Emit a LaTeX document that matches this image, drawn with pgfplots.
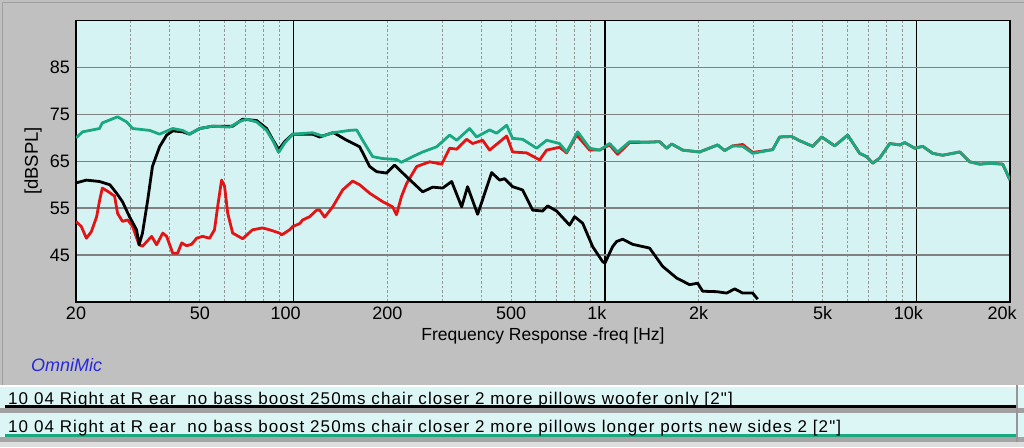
\documentclass[border=0pt]{standalone}
\usepackage{pgfplots}
\pgfplotsset{compat=1.18}
\usepackage{fontspec}
\setmainfont{Liberation Sans}
\newfontfamily\legendfont[LetterSpace=6.5]{Liberation Sans}
\definecolor{bggray}{RGB}{192,192,192}
\definecolor{plotcyan}{RGB}{214,243,243}
\definecolor{rowcyan}{RGB}{220,246,246}
\definecolor{gridgray}{RGB}{128,128,128}
\definecolor{mingray}{RGB}{150,150,150}
\definecolor{tealc}{RGB}{26,168,128}
\definecolor{redc}{RGB}{228,20,20}
\definecolor{omniblue}{RGB}{40,40,220}
\begin{document}
\begin{tikzpicture}[x=1pt,y=1pt]
\path[use as bounding box] (0,0) rectangle (1024,447);
% background
\fill[bggray] (0,0) rectangle (1024,447);
\draw[color={rgb,255:red,160;green,160;blue,160}, line width=1pt] (2.5,62) -- (2.5,444.5) -- (1024,444.5);
% legend rows
\fill[white] (0,60) rectangle (1024,62);
\fill[rowcyan] (0,39.5) rectangle (1024,60);
\fill[black] (5,39.5) rectangle (1017,41.6);
\fill[color={rgb,255:red,160;green,160;blue,160}] (0,34) rectangle (1024,39.5);
\fill[rowcyan] (0,10.5) rectangle (1024,34);
\fill[tealc] (5,10.5) rectangle (1017,13.5);
\fill[color={rgb,255:red,165;green,165;blue,165}] (0,5) rectangle (1024,10.5);
\fill[color={rgb,255:red,222;green,222;blue,222}] (0,0) rectangle (1024,5);
\draw[color={rgb,255:red,150;green,150;blue,150}, line width=1.2pt] (1017,5) -- (1017,62);
\node[anchor=base west, inner sep=0pt, font=\legendfont\fontsize{17}{18}\selectfont] at (8,42.5) {10 04 Right at R ear\ \ no bass boost 250ms chair closer 2 more pillows woofer only [2"]};
\node[anchor=base west, inner sep=0pt, font=\legendfont\fontsize{17}{18}\selectfont] at (8,15) {10 04 Right at R ear\ \ no bass boost 250ms chair closer 2 more pillows longer ports new sides 2 [2"]};
\node[anchor=west, inner sep=0pt, text=omniblue, font=\fontsize{18}{20}\selectfont\itshape] at (31,82) {OmniMic};
\node[anchor=center, inner sep=0pt, font=\fontsize{17.5}{20}\selectfont] at (543,111) {Frequency Response -freq [Hz]};
\node[anchor=center, inner sep=0pt, rotate=90, font=\fontsize{18.5}{20}\selectfont] at (33,286) {[dBSPL]};
\begin{axis}[
  at={(76pt,145pt)}, anchor=south west,
  width=934pt, height=281.3pt, scale only axis,
  xmode=log, xmin=20, xmax=20000, ymin=35, ymax=95,
  axis background/.style={fill=plotcyan},
  axis line style={black, line width=1.6pt},
  xtick={100,1000,10000,20000}, xticklabels={100,1k,10k,20k},
  extra x ticks={20,50,200,500,2000,5000},
  extra x tick labels={20,50,200,500,2k,5k},
  extra x tick style={grid=none, xticklabel style={xshift=8pt}},
  minor xtick={30,40,50,60,70,80,90,200,300,400,500,600,700,800,900,2000,3000,4000,5000,6000,7000,8000,9000},
  xmajorgrids, xminorgrids, ymajorgrids,
  major x grid style={black, line width=1.6pt},
  minor x grid style={mingray, line width=0.9pt, dash pattern=on 2.5pt off 2pt},
  major y grid style={gridgray, line width=1.6pt},
  ytick={45,55,65,75,85}, yticklabels={45,55,65,75,85},
  major tick length=0pt, minor tick length=0pt,
  xticklabel style={font=\fontsize{18}{20}\selectfont, inner sep=0pt, anchor=north, yshift=-4.5pt, xshift=-8pt},
  yticklabel style={font=\fontsize{18}{20}\selectfont, inner sep=0pt, anchor=east, xshift=-6pt},
  clip=true,
]
% red
\addplot[redc, line width=2.8pt, line join=round] coordinates {
(20,52.2)(20.8,51.1)(21.6,48.6)(22.4,50)(23.3,53.2)(23.8,56.6)(24.3,59.3)(25.3,58.6)(26.6,57.6)(27.2,53.9)(28.2,52.2)(29.3,52.5)(30.4,51.1)(31.9,47.2)(32.7,46.9)(35,49)(36.3,47.2)(38,49.7)(39.1,49)(40.9,45.4)(42.4,45.4)(43.7,47.6)(45.3,47)(47,47.3)(48.8,48.6)(51,49)(53.7,48.6)(55.7,50.4)(57,55.3)(58.7,61.0)(60,59.7)(61.4,54)(63.7,49.7)(68.6,48.5)(73.8,50.4)(79.5,50.8)(83.7,50.4)(90.1,49.7)(91.5,49.3)(97.1,50.4)(99.3,51.1)(104.5,51.7)(106.9,52.5)(112.6,53.2)(118.6,54.6)(121.2,54.6)(125.8,53.1)(133.5,55.3)(143.7,58.9)(154.7,60.8)(163,60)(175.5,58.2)(193.2,56.4)(208,55.3)(214,53.6)(222,57.5)(230.7,60.3)(248.5,63.9)(273.5,64.9)(298.8,64.4)(317,67.8)(334,67.6)(359.5,69.7)(375.8,68.8)(404.7,69.5)(426,67.4)(483.4,70.4)(505,67)(560.4,66.8)(617,65.3)(649.6,67.4)(715,68)(753.4,66.8)(811,70.6)(893,67.4)(961,67.4)(1035,68.5)(1098,66.5)(1200,69.0)(1391,69.1)(1498,69.2)(1579,67.8)(1638,68.7)(1777,67.4)(2013,67)(2301,68.5)(2424,67.3)(2572,68.3)(2769,68.6)(2982,66.9)(3457,67.5)(3640,70.2)(3978,70.3)(4221,69.4)(4648,68.2)(4968,70.2)(5469,68.3)(6020,70.6)(6580,66.7)(6930,66)(7244,64.6)(7630,65.7)(8216,68.8)(8848,68.5)(9180,69)(9883,67.8)(10486,68.2)(11290,66.7)(12160,66.3)(13790,67)(14850,64.9)(15990,64.4)(17220,64.6)(18950,64.4)(20000,61)
};
% black
\addplot[black, line width=2.8pt, line join=round] coordinates {
(20,60.4)(21.6,61.0)(23.8,60.7)(25.7,60)(27,58.2)(28.2,56.4)(29.7,53.2)(31.3,50.4)(31.9,47.2)(32.7,49.7)(34,56.8)(35.2,63.9)(37.1,68.1)(39.1,70.6)(40.9,71.5)(44,71.3)(46.3,70.8)(49.9,72)(54.9,72.5)(63.7,72.5)(68.6,74)(76.1,73.7)(81.9,72)(85.6,69.7)(89.5,67.5)(93.6,69.2)(99.3,70.8)(115,70.8)(121.2,70.2)(133.5,71.1)(135.5,71)(148,69.5)(151.4,69.2)(163,68.1)(175.5,63.9)(184.8,62.8)(199,62.5)(211,64.2)(230.7,61.7)(259.7,58.5)(279.7,59.5)(301,59.3)(321.8,60.7)(346.5,55.3)(362,59.6)(390,53.7)(432.5,62.6)(459,61)(476,61.3)(505,59.6)(544,58.9)(585.7,54.6)(630.8,54.4)(654.5,55.5)(699.5,54.4)(770,51.4)(799,53.2)(848,51.8)(913,46.8)(983,43.6)(1000,43.3)(1058,46.8)(1090,47.9)(1140,48.4)(1227,47.3)(1391,46.5)(1532,42.6)(1700,40.1)(1870,38.7)(1985,39)(2060,37.3)(2285,37.2)(2460,36.9)(2610,37.8)(2769,36.9)(2982,36.9)(3094,35.6)
};
% teal
\addplot[tealc, line width=2.8pt, line join=round] coordinates {
(20,70.0)(21,71.3)(23.8,72.0)(24.3,73.2)(27.2,74.5)(29.1,73.4)(30.4,72)(34.5,71.6)(37.1,70.8)(40.9,72)(44,71.6)(46.3,70.8)(49.9,72)(54.9,72.5)(62.3,72.3)(67.1,73.5)(70.6,74)(76.1,73.4)(81.9,71.6)(85.6,69.5)(89.5,66.9)(93.6,68.9)(99.3,70.8)(115,71.1)(123.9,70.4)(133.5,71.1)(151.4,71.6)(159.4,71.7)(166.6,69.5)(179.4,66)(193.2,65.6)(214,65.4)(222,64.8)(241,66)(259.7,67)(288,68.1)(317,70.6)(334,69.5)(367.5,72)(387,70.2)(426,71.7)(448.8,71)(483.4,72.7)(505,69.9)(544,69.7)(603.4,67.8)(649.6,69.5)(715,68.8)(753.4,67)(817,71.3)(893,67.8)(961,67.4)(1035,68.8)(1098,67)(1200,69.2)(1391,69.1)(1498,69.2)(1579,67.8)(1638,68.7)(1777,67.4)(2013,67)(2301,68.5)(2424,67.3)(2572,68.3)(2769,68.2)(2982,66.7)(3457,67.5)(3640,70.2)(3978,70.3)(4221,69.4)(4648,68.2)(4968,70.2)(5469,68.3)(6020,70.6)(6580,66.7)(6930,66)(7244,64.6)(7630,65.7)(8216,68.8)(8848,68.5)(9180,69)(9883,67.8)(10486,68.2)(11290,66.7)(12160,66.3)(13790,67)(14850,64.9)(15990,64.4)(17220,64.6)(18950,64.4)(20000,61)
};
\end{axis}
\end{tikzpicture}
\end{document}
